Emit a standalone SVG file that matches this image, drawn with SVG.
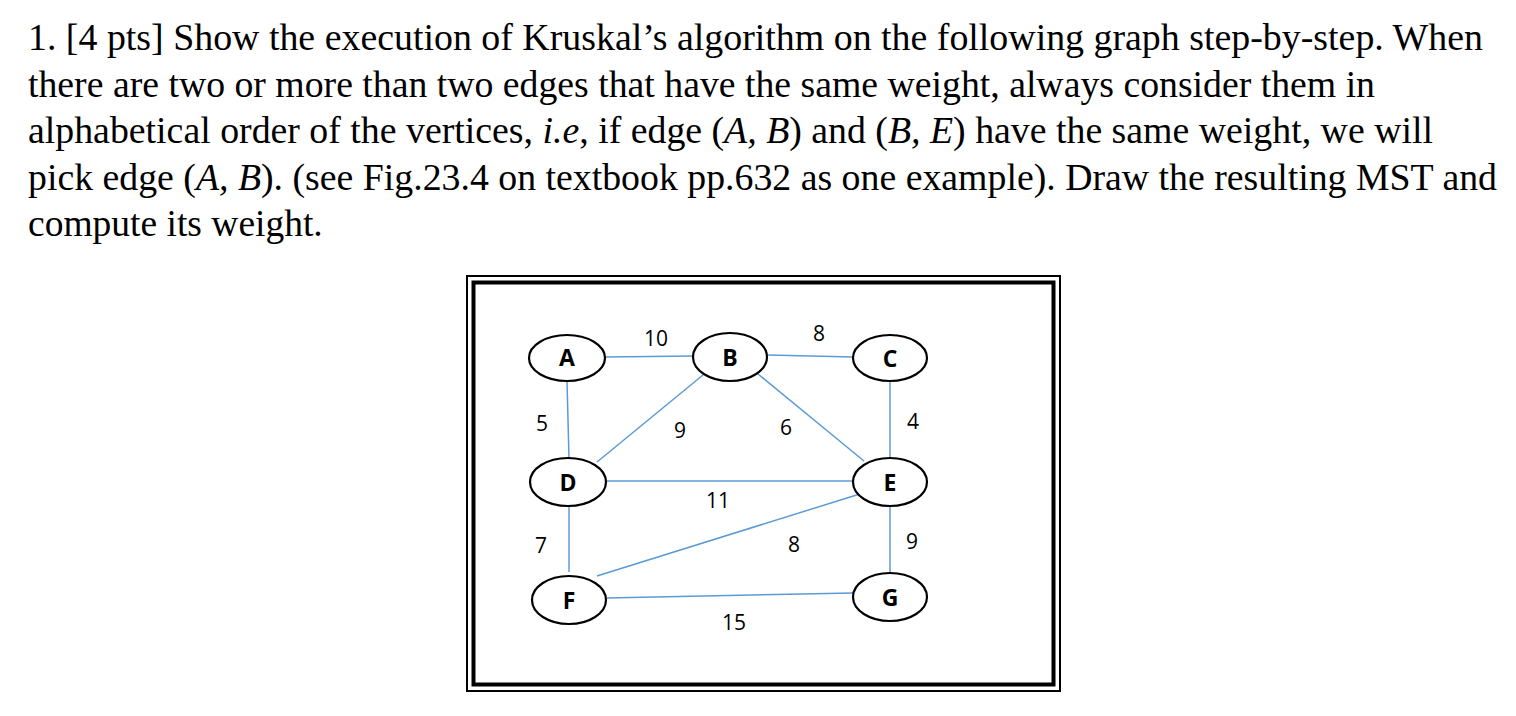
<svg xmlns="http://www.w3.org/2000/svg" width="1516" height="716" viewBox="0 0 1516 716">
<style>
.t{font-family:"Liberation Serif",serif;font-size:37.5px;fill:#000}
.n{fill:#fff;stroke:#000;stroke-width:2.2}
.nl{font-family:"Open Sans","Liberation Sans",sans-serif;font-weight:bold;font-size:23px;text-anchor:middle}
.w{font-family:"Open Sans","Liberation Sans",sans-serif;font-size:21px;text-anchor:middle}
.e{stroke:#5b9bd5;stroke-width:1.5;fill:none}
</style>
<rect width="1516" height="716" fill="#fff"/>
<g id="text">
<text class="t" x="28" y="50" textLength="1455" lengthAdjust="spacingAndGlyphs">1. [4 pts] Show the execution of Kruskal’s algorithm on the following graph step-by-step. When</text>
<text class="t" x="28" y="97" textLength="1347" lengthAdjust="spacingAndGlyphs">there are two or more than two edges that have the same weight, always consider them in</text>
<text class="t" x="28" y="143" textLength="1405" lengthAdjust="spacingAndGlyphs">alphabetical order of the vertices, <tspan font-style="italic">i.e</tspan>, if edge (<tspan font-style="italic">A, B</tspan>) and (<tspan font-style="italic">B, E</tspan>) have the same weight, we will</text>
<text class="t" x="28" y="190" textLength="1469" lengthAdjust="spacingAndGlyphs">pick edge (<tspan font-style="italic">A, B</tspan>). (see Fig.23.4 on textbook pp.632 as one example). Draw the resulting MST and</text>
<text class="t" x="28" y="236">compute its weight.</text>
</g>
<g id="frame" fill="none" stroke="#000">
<rect x="467" y="276" width="593" height="415" stroke-width="2"/>
<rect x="473.5" y="282.5" width="580" height="402" stroke-width="4"/>
</g>
<g id="edges">
<line class="e" x1="605" y1="357" x2="693" y2="356"/>
<line class="e" x1="768" y1="355" x2="853" y2="357"/>
<line class="e" x1="567" y1="381" x2="569" y2="459"/>
<line class="e" x1="703" y1="375" x2="597" y2="462"/>
<line class="e" x1="758" y1="374" x2="864" y2="461"/>
<line class="e" x1="890" y1="381" x2="890" y2="460"/>
<line class="e" x1="607" y1="481" x2="853" y2="481"/>
<line class="e" x1="569" y1="506" x2="569" y2="572"/>
<line class="e" x1="863" y1="493" x2="597" y2="576"/>
<line class="e" x1="890" y1="507" x2="890" y2="574"/>
<line class="e" x1="607" y1="598" x2="853" y2="593"/>
</g>
<g id="A"><ellipse class="n" cx="567" cy="358" rx="38" ry="23"/><text class="nl" x="567" y="366">A</text></g>
<g id="B"><ellipse class="n" cx="730" cy="357" rx="37" ry="24"/><text class="nl" x="730" y="366">B</text></g>
<g id="C"><ellipse class="n" cx="890" cy="358" rx="37" ry="23"/><text class="nl" x="890" y="367">C</text></g>
<g id="D"><ellipse class="n" cx="568" cy="482" rx="38" ry="24"/><text class="nl" x="568" y="491">D</text></g>
<g id="E"><ellipse class="n" cx="890" cy="482" rx="37" ry="24"/><text class="nl" x="890" y="491">E</text></g>
<g id="F"><ellipse class="n" cx="569" cy="600" rx="37" ry="24"/><text class="nl" x="569" y="609">F</text></g>
<g id="G"><ellipse class="n" cx="890" cy="597" rx="37" ry="24"/><text class="nl" x="890" y="606">G</text></g>
<g id="weights">
<text class="w" x="656" y="346">10</text>
<text class="w" x="819" y="341">8</text>
<text class="w" x="542" y="431">5</text>
<text class="w" x="680" y="438">9</text>
<text class="w" x="786" y="435">6</text>
<text class="w" x="913" y="429">4</text>
<text class="w" x="718" y="508">11</text>
<text class="w" x="541" y="553">7</text>
<text class="w" x="794" y="552">8</text>
<text class="w" x="912" y="549">9</text>
<text class="w" x="734" y="630">15</text>
</g>
</svg>
